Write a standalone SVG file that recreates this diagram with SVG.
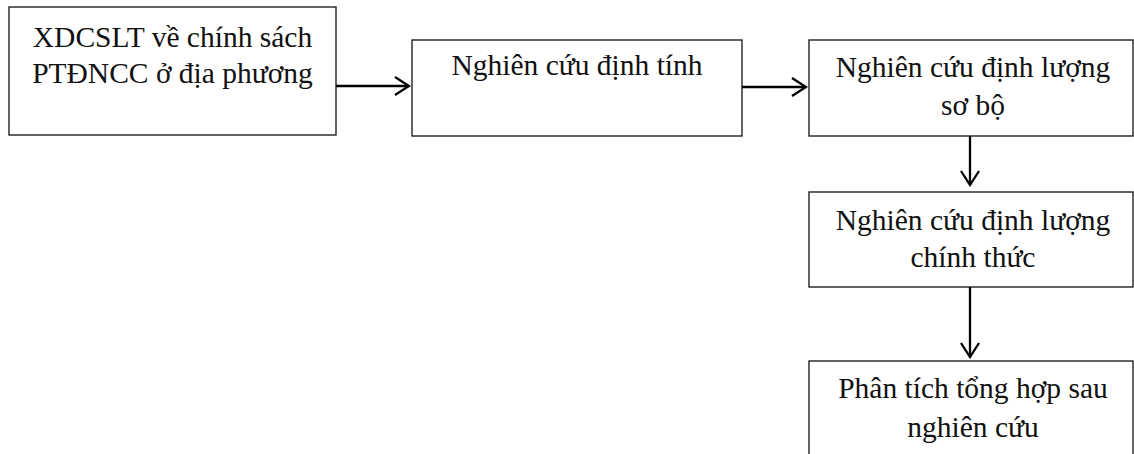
<svg xmlns="http://www.w3.org/2000/svg" width="1134" height="454" viewBox="0 0 1134 454">
<style>
.box{fill:#fff;stroke:#222;stroke-width:1.4}
.t{font-family:"Liberation Serif","Times New Roman",serif;font-size:29.5px;fill:#111;text-anchor:middle}
.c{stroke:#000;stroke-width:2.3;fill:none}
</style>
<defs>
<marker id="ah" viewBox="0 0 18 22" refX="16" refY="11" markerWidth="18" markerHeight="22" markerUnits="userSpaceOnUse" orient="auto">
<path d="M2,2 L16,11 L2,20" fill="none" stroke="#000" stroke-width="2.3"/>
</marker>
</defs>
<rect width="1134" height="454" fill="#fff"/>
<g id="n1"><rect class="box" x="9" y="7" width="327" height="128"/>
<text class="t" x="172.5" y="47">XDCSLT về chính sách</text>
<text class="t" x="172.5" y="83">PTĐNCC ở địa phương</text></g>
<g id="n2"><rect class="box" x="412" y="40" width="330" height="96"/>
<text class="t" x="577" y="75">Nghiên cứu định tính</text></g>
<g id="n3"><rect class="box" x="809" y="40" width="324" height="96"/>
<text class="t" x="973" y="77">Nghiên cứu định lượng</text>
<text class="t" x="973" y="115">sơ bộ</text></g>
<g id="n4"><rect class="box" x="809" y="192" width="324" height="95"/>
<text class="t" x="973" y="230">Nghiên cứu định lượng</text>
<text class="t" x="973" y="267">chính thức</text></g>
<g id="n5"><rect class="box" x="809" y="361" width="324" height="110"/>
<text class="t" x="973" y="398">Phân tích tổng hợp sau</text>
<text class="t" x="973" y="437">nghiên cứu</text></g>
<g id="connectors">
<line class="c" x1="336" y1="86" x2="409" y2="86" marker-end="url(#ah)"/>
<line class="c" x1="742" y1="87" x2="806" y2="87" marker-end="url(#ah)"/>
<line class="c" x1="970" y1="136" x2="970" y2="185" marker-end="url(#ah)"/>
<line class="c" x1="970" y1="287" x2="970" y2="357" marker-end="url(#ah)"/>
</g>
</svg>
